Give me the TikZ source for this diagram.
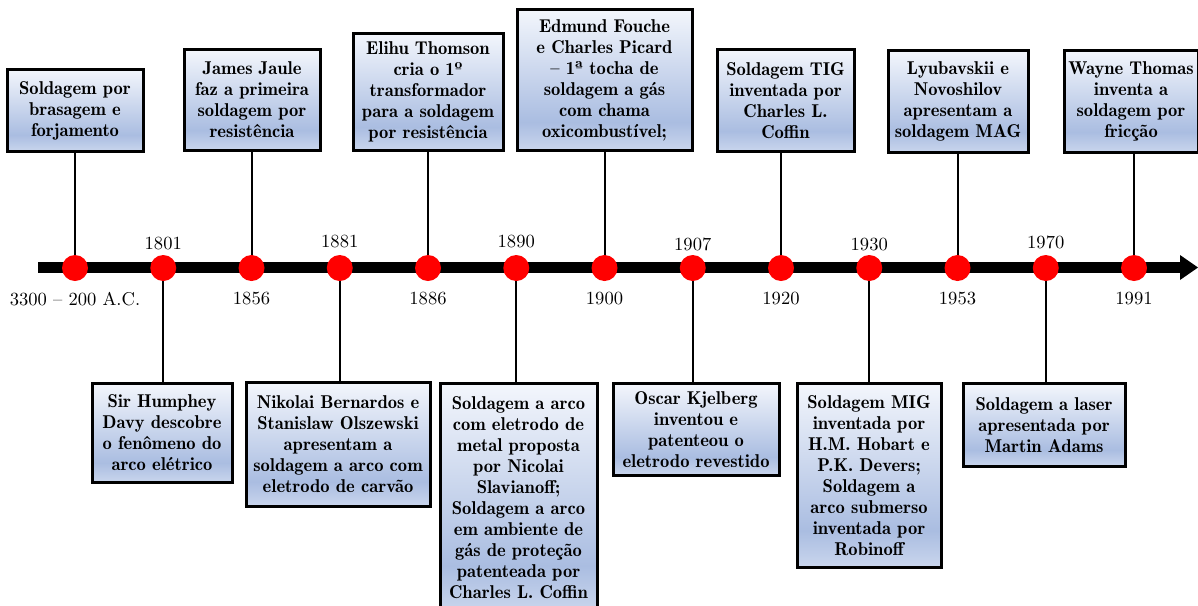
\documentclass[tikz,border=0pt]{standalone}
\usetikzlibrary{arrows.meta,calc}
\definecolor{shT}{RGB}{243,246,252}
\definecolor{shM}{RGB}{170,189,225}
\definecolor{shB}{RGB}{202,214,237}
\definecolor{dotred}{RGB}{255,0,0}
\pgfdeclareverticalshading{boxshade}{100bp}{color(0bp)=(shB); color(25bp)=(shB); color(35bp)=(shM); color(75bp)=(shT); color(100bp)=(shT)}
\begin{document}
\begin{tikzpicture}[x=0.55pt,y=0.55pt,
  evbox/.style n args={2}{draw=black, line width=1.65pt, shading=boxshade, align=center, inner sep=1pt,
    minimum width=#1*0.55pt, minimum height=#2*0.55pt,
    font=\fontsize{10.2}{11.55}\fontseries{b}\selectfont},
  yearlbl/.style={font=\fontsize{10.2}{11.55}\selectfont, inner sep=0pt},
  conn/.style={line width=1.1pt, draw=black},
  dot/.style={circle, fill=dotred, minimum size=26*0.55pt, inner sep=0pt},
  axisline/.style={line width=6pt, draw=black}
]
\clip (0,0) rectangle (1198,-605);
% timeline points
\coordinate (c1) at (75,-268);
\coordinate (c2) at (163.25,-268);
\coordinate (c3) at (251.5,-268);
\coordinate (c4) at (339.75,-268);
\coordinate (c5) at (428,-268);
\coordinate (c6) at (516.25,-268);
\coordinate (c7) at (604.5,-268);
\coordinate (c8) at (692.75,-268);
\coordinate (c9) at (781,-268);
\coordinate (c10) at (869.25,-268);
\coordinate (c11) at (957.5,-268);
\coordinate (c12) at (1045.75,-268);
\coordinate (c13) at (1134,-268);
\coordinate (axstart) at (38,-267.5);
\coordinate (axend) at (1181,-267.5);
\coordinate (axtip) at (1198,-267.5);

% top boxes
\node[evbox={136}{82}, anchor=south] (T1) at (75,-153) {Soldagem por\\brasagem e\\forjamento};
\node[evbox={136}{101}, anchor=south] (T2) at (252,-152) {James Jaule\\faz a primeira\\soldagem por\\resistência};
\node[evbox={150}{117}, anchor=south] (T3) at (428,-152) {Elihu Thomson\\cria o 1º\\transformador\\para a soldagem\\por resistência};
\node[evbox={175}{141}, anchor=south] (T4) at (604.5,-152) {Edmund Fouche\\e Charles Picard\\– 1ª tocha de\\soldagem a gás\\com chama\\oxicombustível;};
\node[evbox={137}{102}, anchor=south] (T5) at (785.5,-153) {Soldagem TIG\\inventada por\\Charles L.\\Coffin};
\node[evbox={140}{102}, anchor=south] (T6) at (958,-154) {Lyubavskii e\\Novoshilov\\apresentam a\\soldagem MAG};
\node[evbox={134}{102}, anchor=south] (T7) at (1131,-154) {Wayne Thomas\\inventa a\\soldagem por\\fricção};

% bottom boxes
\node[evbox={140}{99}, anchor=north] (B1) at (162,-382) {Sir Humphey\\Davy descobre\\o fenômeno do\\arco elétrico};
\node[evbox={184}{124}, anchor=north] (B2) at (338,-381) {Nikolai Bernardos e\\Stanislaw Olszewski\\apresentam a\\soldagem a arco com\\eletrodo de carvão};
\node[evbox={157}{228}, anchor=north] (B3) at (518.5,-382) {Soldagem a arco\\com eletrodo de\\metal proposta\\por Nicolai\\Slavianoff;\\Soldagem a arco\\em ambiente de\\gás de proteção\\patenteada por\\Charles L. Coffin};
\node[evbox={166}{92}, anchor=north] (B4) at (696,-382) {Oscar Kjelberg\\inventou e\\patenteou o\\eletrodo revestido};
\node[evbox={144}{184}, anchor=north] (B5) at (869,-382) {Soldagem MIG\\inventada por\\H.M. Hobart e\\P.K. Devers;\\Soldagem a\\arco submerso\\inventada por\\Robinoff};
\node[evbox={162}{83}, anchor=north] (B6) at (1044,-382) {Soldagem a laser\\apresentada por\\Martin Adams};

% connectors
\foreach \b/\c in {T1/c1,T2/c3,T3/c5,T4/c7,T5/c9,T6/c11,T7/c13}{
  \draw[conn] (\c |- \b.south) -- (\c);
}
\foreach \b/\c in {B1/c2,B2/c4,B3/c6,B4/c8,B5/c10,B6/c12}{
  \draw[conn] (\c) -- (\c |- \b.north);
}

% axis
\draw[axisline] (axstart) -- (axend);
\fill[black] (1180,-255) -- (axtip) -- (1180,-280) -- cycle;

% dots
\foreach \i in {1,...,13}{
  \node[dot] (d\i) at (c\i) {};
}

% year labels
\node[yearlbl] (y1) at ($(c1)+(0,-31)$) {3300 – 200 A.C.};
\node[yearlbl] (y2) at ($(c2)+(0,24)$) {1801};
\node[yearlbl] (y3) at ($(c3)+(0,-31)$) {1856};
\node[yearlbl] (y4) at ($(c4)+(0,26)$) {1881};
\node[yearlbl] (y5) at ($(c5)+(0,-31)$) {1886};
\node[yearlbl] (y6) at ($(c6)+(0,26)$) {1890};
\node[yearlbl] (y7) at ($(c7)+(0,-31)$) {1900};
\node[yearlbl] (y8) at ($(c8)+(0,24)$) {1907};
\node[yearlbl] (y9) at ($(c9)+(0,-31)$) {1920};
\node[yearlbl] (y10) at ($(c10)+(0,23)$) {1930};
\node[yearlbl] (y11) at ($(c11)+(0,-31)$) {1953};
\node[yearlbl] (y12) at ($(c12)+(0,26)$) {1970};
\node[yearlbl] (y13) at ($(c13)+(0,-31)$) {1991};
\end{tikzpicture}
\end{document}
